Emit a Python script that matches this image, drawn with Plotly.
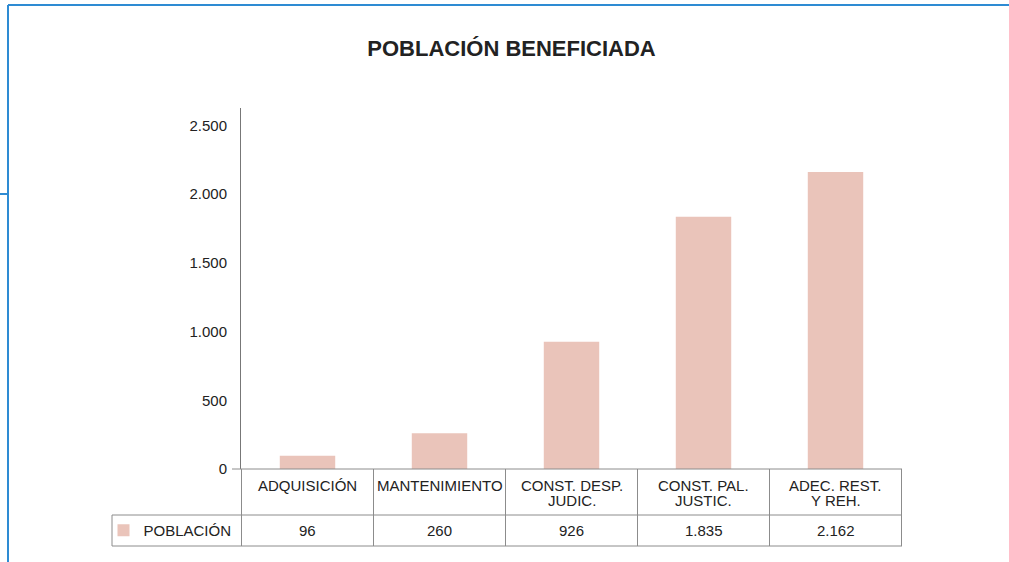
import plotly.graph_objects as go

# data
categorias = ["ADQUISICIÓN", "MANTENIMIENTO", "CONST. DESP.<br>JUDIC.",
              "CONST. PAL.<br>JUSTIC.", "ADEC. REST.<br>Y REH."]
poblacion = [96, 260, 926, 1835, 2162]
serie = "POBLACIÓN"
titulo = "POBLACIÓN BENEFICIADA"
y_ticks = [0, 500, 1000, 1500, 2000, 2500]

W, H = 1009, 562
L, R, T, B = 241, 902, 108, 469  # plot area in pixels
FONT = "Liberation Sans Narrow, Arial Narrow, Liberation Sans, Arial"
TXT = "#222"
GRID = "#8c8c8c"
BLUE = "#2e8bd3"


def px(x):
    return (x - L) / (R - L)


def py(y):
    return (B - y) / (B - T)


def fmt(v):
    return f"{v:,}".replace(",", ".")


fig = go.Figure()
fig.add_trace(go.Bar(x=categorias, y=poblacion, name=serie,
                     marker=dict(color="#eac4ba", line=dict(width=0)),
                     width=0.42, showlegend=True))

shapes = []
# table grid (column boundaries follow the category axis)
row1, row2 = 515, 546
for i in range(len(categorias) + 1):
    shapes.append(dict(type="line", xref="x", yref="paper",
                       x0=i - 0.5, x1=i - 0.5, y0=py(B), y1=py(row2),
                       line=dict(color=GRID, width=1)))
for yy in (row1, row2):
    shapes.append(dict(type="line", xref="paper", yref="paper",
                       x0=px(112), x1=1, y0=py(yy), y1=py(yy),
                       line=dict(color=GRID, width=1)))
shapes.append(dict(type="line", xref="paper", yref="paper",
                   x0=px(112), x1=px(112), y0=py(row1), y1=py(row2),
                   line=dict(color=GRID, width=1)))
shapes.append(dict(type="line", xref="paper", yref="paper",
                   x0=px(232), x1=1, y0=0, y1=0,
                   line=dict(color=GRID, width=1)))
# blue page frame
shapes.append(dict(type="line", xref="paper", yref="paper",
                   x0=px(8), x1=px(W), y0=py(5), y1=py(5),
                   line=dict(color=BLUE, width=2)))
shapes.append(dict(type="line", xref="paper", yref="paper",
                   x0=px(8), x1=px(8), y0=py(5), y1=py(H),
                   line=dict(color=BLUE, width=2)))
shapes.append(dict(type="line", xref="paper", yref="paper",
                   x0=px(0), x1=px(8), y0=py(194), y1=py(194),
                   line=dict(color=BLUE, width=2)))

annotations = []
# table header: category names, one annotation per line for tight spacing
for c in categorias:
    for j, linea in enumerate(c.split("<br>")):
        annotations.append(dict(x=c, xref="x", y=py(485 + 15 * j), yref="paper",
                                yanchor="middle", text=linea, showarrow=False,
                                font=dict(family=FONT, size=15, color=TXT)))
# table body: values
for c, v in zip(categorias, poblacion):
    annotations.append(dict(x=c, xref="x", y=py((row1 + row2) / 2), yref="paper",
                            yanchor="middle", text=fmt(v), showarrow=False,
                            font=dict(family=FONT, size=15, color=TXT)))

fig.update_layout(
    width=W, height=H,
    margin=dict(l=L, r=W - R, t=T, b=H - B, pad=0),
    paper_bgcolor="white", plot_bgcolor="white",
    separators=",.",
    title=dict(text="<b>" + titulo + "</b>", x=511.5 / W, xref="container",
               xanchor="center", y=1 - 48 / H, yanchor="middle",
               font=dict(family=FONT, size=22, color=TXT)),
    font=dict(family=FONT, size=15, color=TXT),
    bargap=0.58,
    shapes=shapes,
    annotations=annotations,
    legend=dict(x=px(103.5), y=py((row1 + row2) / 2), xanchor="left", yanchor="middle",
                font=dict(family=FONT, size=15, color=TXT),
                bgcolor="rgba(0,0,0,0)", itemwidth=30),
)
fig.update_yaxes(range=[0, 2627], tickvals=y_ticks, tickformat=",d",
                 showgrid=False, zeroline=False, showline=True,
                 linecolor="#777", linewidth=1, ticks="", ticklabelstandoff=10,
                 tickfont=dict(family=FONT, size=15, color=TXT))
fig.update_xaxes(showgrid=False, showline=False, ticks="", showticklabels=False)

fig.write_html("out.html", config={"displayModeBar": False},
               post_script="document.body.style.margin='0';")
